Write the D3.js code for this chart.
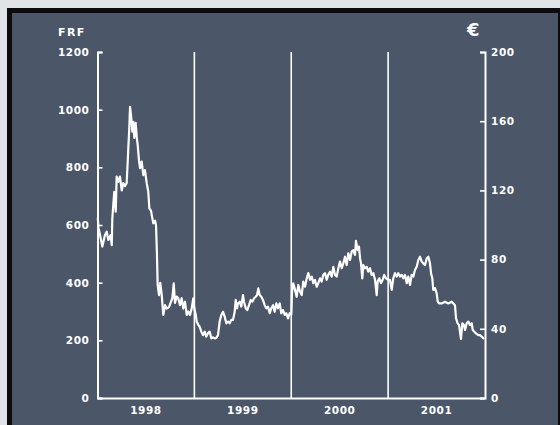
<!DOCTYPE html>
<html>
<head>
<meta charset="utf-8">
<script src="https://cdn.jsdelivr.net/npm/d3@7"></script>
<style>
  html, body { margin: 0; padding: 0; background: #dfe4e6; }
  svg { display: block; }
  text { font-family: "DejaVu Sans", sans-serif; font-weight: bold; fill: #ffffff; }
</style>
</head>
<body>
<svg id="chart" width="560" height="425"></svg>
<script>
// ---- data (decimal year offset from 1998, price in FRF) ----
const timeOffsets = [
0.003,0.010,0.026,0.050,0.077,0.095,0.112,0.136,0.147,0.153,0.173,0.188,0.198,0.215,0.232,0.250,0.266,0.284,0.301,0.312,
0.318,0.328,0.336,0.346,0.359,0.370,0.380,0.394,0.405,0.415,0.428,0.439,0.456,0.473,0.490,0.508,0.524,0.535,0.552,0.566,
0.576,0.594,0.604,0.614,0.621,0.635,0.648,0.663,0.679,0.697,0.714,0.738,0.759,0.772,0.787,0.800,0.818,0.834,0.852,0.869,
0.886,0.903,0.921,0.937,0.955,0.972,0.989,0.999,1.014,1.024,1.041,1.055,1.072,1.089,1.107,1.123,1.141,1.158,1.175,1.192,
1.210,1.226,1.244,1.261,1.278,1.296,1.313,1.330,1.347,1.365,1.381,1.399,1.416,1.427,1.440,1.450,1.468,1.484,1.502,1.512,
1.530,1.546,1.564,1.581,1.598,1.616,1.633,1.647,1.660,1.674,1.691,1.708,1.726,1.743,1.760,1.778,1.794,1.812,1.829,1.846,
1.863,1.881,1.897,1.915,1.932,1.949,1.967,1.984,2.001,2.008,2.021,2.039,2.056,2.073,2.090,2.108,2.124,2.142,2.160,2.176,
2.194,2.211,2.228,2.245,2.263,2.279,2.297,2.314,2.331,2.348,2.366,2.382,2.400,2.418,2.434,2.452,2.469,2.486,2.503,2.521,
2.537,2.555,2.572,2.589,2.607,2.624,2.641,2.658,2.668,2.686,2.699,2.710,2.720,2.733,2.744,2.761,2.779,2.795,2.813,2.830,
2.847,2.865,2.882,2.892,2.909,2.926,2.944,2.960,2.978,3.002,3.019,3.037,3.053,3.071,3.089,3.105,3.123,3.140,3.157,3.174,
3.192,3.208,3.226,3.243,3.260,3.277,3.295,3.312,3.329,3.347,3.363,3.381,3.398,3.415,3.432,3.443,3.456,3.466,3.484,3.501,
3.512,3.525,3.553,3.587,3.621,3.656,3.673,3.690,3.701,3.718,3.732,3.752,3.766,3.783,3.794,3.811,3.828,3.845,3.863,3.873,
3.890,3.907,3.931,3.948,3.966,3.982,3.990
];
const priceFRF = [
625,590,565,525,565,577,548,565,530,624,715,646,768,750,768,720,745,735,745,820,
867,936,1010,981,924,958,902,954,905,877,825,797,820,773,790,745,716,658,650,623,
606,615,600,496,392,357,399,357,288,322,310,315,334,345,398,330,352,345,322,346,
310,334,288,300,288,310,346,312,290,265,253,247,230,218,230,213,225,230,207,210,
207,208,218,265,288,299,282,259,265,259,271,271,299,340,311,328,334,317,357,334,
311,305,322,340,334,346,351,357,380,357,351,340,322,311,317,294,311,322,299,328,
311,328,294,305,288,294,276,294,290,369,398,375,351,392,369,357,404,386,415,433,
410,421,398,410,386,398,415,404,427,433,410,427,438,421,455,427,421,450,473,450,
467,490,461,502,479,508,513,496,545,513,525,485,467,415,461,450,455,438,450,427,
433,410,357,404,415,398,410,427,415,410,410,375,415,433,421,433,421,427,415,427,
398,421,392,427,421,444,455,479,490,473,467,461,484,490,467,433,415,375,381,363,
334,328,328,334,328,334,328,322,276,259,253,205,259,253,236,259,265,253,259,236,
230,224,218,218,213,207,210
];
const baseYear = 1998;
const yearDomain = [1998, 2002];
const yearBoundaries = [1999, 2000, 2001];
const yearLabels = ["1998", "1999", "2000", "2001"];
const leftTicks = [0, 200, 400, 600, 800, 1000, 1200];
const rightTicks = [0, 40, 80, 120, 160, 200];
const leftUnit = "FRF";
const rightUnit = "€";

// ---- layout ----
const svg = d3.select("#chart");
const W = 560, H = 425;
const plot = { left: 97.5, right: 485, top: 52, bottom: 398 };

// frame
svg.append("rect").attr("x", 7).attr("y", 8).attr("width", W).attr("height", H)
  .attr("fill", "#0c0c0e");
svg.append("rect").attr("x", 12).attr("y", 13).attr("width", 546).attr("height", H)
  .attr("fill", "#4b5669");

const x = d3.scaleLinear().domain(yearDomain).range([plot.left, plot.right]);
const yL = d3.scaleLinear().domain([0, 1200]).range([plot.bottom, plot.top]);
const yR = d3.scaleLinear().domain([0, 200]).range([plot.bottom, plot.top]);

// year boundary lines
svg.append("g").selectAll("line").data(yearBoundaries).join("line")
  .attr("x1", d => x(d)).attr("x2", d => x(d))
  .attr("y1", plot.top).attr("y2", plot.bottom)
  .attr("stroke", "#ffffff").attr("stroke-width", 1.6);

// data line
const data = timeOffsets.map((t, i) => ({ t: baseYear + t, v: priceFRF[i] }));
const line = d3.line().x(d => x(d.t)).y(d => yL(d.v));
svg.append("path").datum(data)
  .attr("d", line)
  .attr("fill", "none")
  .attr("stroke", "#ffffff")
  .attr("stroke-width", 2.2)
  .attr("stroke-linejoin", "round");

// axes
const axisStyle = g => {
  g.attr("color", "#ffffff");
  g.select(".domain").attr("stroke-width", 2);
  g.selectAll(".tick line").attr("stroke-width", 1.6);
  g.selectAll("text")
    .style("font-family", "'DejaVu Sans', sans-serif")
    .style("font-weight", "bold")
    .style("font-size", "10.5px")
    .style("letter-spacing", "0.6px")
    .attr("fill", "#ffffff");
};

svg.append("g")
  .attr("transform", `translate(0,${plot.bottom})`)
  .call(d3.axisBottom(x).tickValues([]).tickSizeOuter(0))
  .call(axisStyle);

svg.append("g")
  .attr("transform", `translate(${plot.left},0)`)
  .call(d3.axisLeft(yL).tickValues(leftTicks).tickSize(-5).tickPadding(8).tickFormat(d3.format("d")))
  .call(axisStyle);

svg.append("g")
  .attr("transform", `translate(${plot.right},0)`)
  .call(d3.axisRight(yR).tickValues(rightTicks).tickSize(-5).tickPadding(6).tickFormat(d3.format("d")))
  .call(axisStyle);

// year labels
svg.append("g").selectAll("text").data(yearLabels).join("text")
  .attr("x", d => x(+d + 0.5))
  .attr("y", 413.5)
  .attr("text-anchor", "middle")
  .style("font-size", "10.5px")
  .style("letter-spacing", "0.6px")
  .text(d => d);

// unit labels
svg.append("text").attr("x", 58).attr("y", 36)
  .style("font-size", "11px").style("letter-spacing", "1.4px")
  .text(leftUnit);
svg.append("text").attr("x", 467).attr("y", 36)
  .style("font-size", "18px")
  .text(rightUnit);
</script>
</body>
</html>
